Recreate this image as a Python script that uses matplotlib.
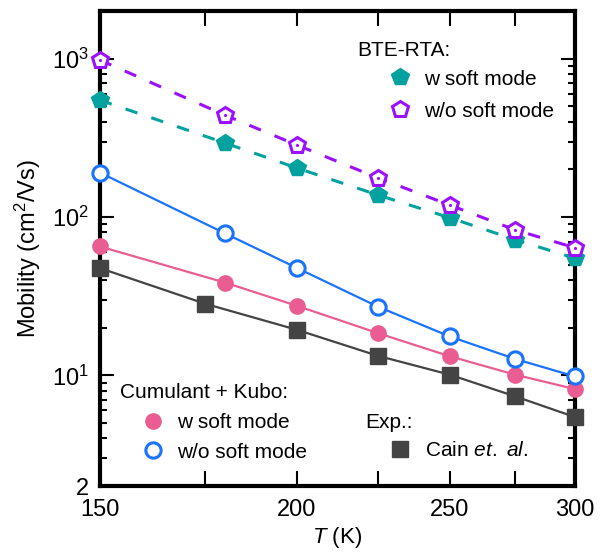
import numpy as np
import matplotlib.pyplot as plt
from matplotlib.ticker import FixedLocator, NullFormatter, LogLocator

plt.rcParams['font.family'] = ['Liberation Sans', 'DejaVu Sans']
plt.rcParams['mathtext.fontset'] = 'custom'
plt.rcParams['mathtext.rm'] = 'Liberation Sans'
plt.rcParams['mathtext.it'] = 'Liberation Sans:italic'

# temperatures (K)
T_calc = [150, 180, 200, 225, 250, 275, 300]
T_exp = [150, 175, 200, 225, 250, 275, 300]

# BTE-RTA mobilities (cm^2/Vs)
bte_soft = [548, 294, 204, 138, 99, 72, 55]
bte_nosoft = [982, 441, 285, 177, 119, 83, 64]

# cumulant + Kubo
ck_soft = [65.2, 38.6, 27.5, 18.5, 13.2, 10.1, 8.2]
ck_nosoft = [191, 79, 47.7, 27.2, 17.6, 12.7, 9.85]

# experiment (Cain et al.)
exp_mu = [47.6, 28.3, 19.4, 13.3, 10.1, 7.37, 5.46]

c_teal = '#00a19e'
c_purple = '#9b10ff'
c_blue = '#1a73ff'
c_pink = '#ea5d92'
c_gray = '#444444'

fig = plt.figure(figsize=(6.05, 5.54), dpi=100)
ax = fig.add_axes([0.165, 0.1227, 0.785, 0.8573])

ms = 11
lw = 1.6
dlw = 2.2
dash = (4.1, 4.8)

ax.plot(T_calc, bte_soft, '--', color=c_teal, lw=dlw, dashes=dash)
ax.plot(T_calc, bte_nosoft, '--', color=c_purple, lw=dlw, dashes=dash)
h_bs, = ax.plot(T_calc, bte_soft, 'p', ls='none', color=c_teal, ms=ms + 2,
                mec=c_teal, clip_on=False, zorder=4)
h_bn, = ax.plot(T_calc, bte_nosoft, 'p', ls='none', mfc='white', mec=c_purple,
                mew=2.2, ms=ms + 1, clip_on=False, zorder=4)
ax.plot(T_calc, bte_nosoft, '.', ls='none', color=c_purple, ms=2.5,
        clip_on=False, zorder=5)

ax.plot(T_exp, exp_mu, '-', color=c_gray, lw=lw)
ax.plot(T_calc, ck_soft, '-', color=c_pink, lw=lw)
ax.plot(T_calc, ck_nosoft, '-', color=c_blue, lw=lw)
h_ex, = ax.plot(T_exp, exp_mu, 's', ls='none', color=c_gray, ms=ms,
                clip_on=False, zorder=4)
h_cs, = ax.plot(T_calc, ck_soft, 'o', ls='none', color=c_pink, ms=ms,
                clip_on=False, zorder=4)
h_cn, = ax.plot(T_calc, ck_nosoft, 'o', ls='none', mfc='white', mec=c_blue,
                mew=2.2, ms=ms, clip_on=False, zorder=4)

ax.set_xscale('log')
ax.set_yscale('log')
ax.set_xlim(150, 300)
ax.set_ylim(2, 2000)

ax.xaxis.set_major_locator(FixedLocator([150, 200, 250, 300]))
ax.xaxis.set_minor_locator(FixedLocator([175, 225, 275]))
ax.xaxis.set_minor_formatter(NullFormatter())
ax.set_xticklabels(['150', '200', '250', '300'])

ax.yaxis.set_major_locator(FixedLocator([2, 10, 100, 1000]))
ax.set_yticklabels(['2', '$10^1$', '$10^2$', '$10^3$'])
ax.yaxis.set_minor_locator(LogLocator(base=10, subs=np.arange(2, 10)))
ax.yaxis.set_minor_formatter(NullFormatter())

ax.tick_params(which='both', direction='in', top=True, right=True,
               labelsize=17, width=1.5)
ax.tick_params(axis='x', which='both', length=11, pad=9)
ax.tick_params(axis='y', which='major', length=10, pad=8)
ax.tick_params(axis='y', which='minor', length=5)
for s in ax.spines.values():
    s.set_linewidth(3)

ax.set_xlabel('$\\it{T}$ (K)', fontsize=16, labelpad=3)
ax.set_ylabel('Mobility (cm$^2$/Vs)', fontsize=17, labelpad=6)

fs = 15
leg_kw = dict(frameon=False, fontsize=fs, borderpad=0, borderaxespad=0,
              handlelength=1.0, handletextpad=0.68, labelspacing=0.63,
              loc='center left')

ax.text(0.541, 0.918, 'BTE-RTA:', transform=ax.transAxes, fontsize=fs,
        va='center', ha='left')
leg1 = ax.legend([h_bs, h_bn], ['w soft mode', 'w/o soft mode'],
                 bbox_to_anchor=(0.610, 0.823), **leg_kw)
ax.add_artist(leg1)

ax.text(0.042, 0.196, 'Cumulant + Kubo:', transform=ax.transAxes, fontsize=fs,
        va='center', ha='left')
leg2 = ax.legend([h_cs, h_cn], ['w soft mode', 'w/o soft mode'],
                 bbox_to_anchor=(0.089, 0.102), **dict(leg_kw, labelspacing=0.49))
ax.add_artist(leg2)

ax.text(0.559, 0.133, 'Exp.:', transform=ax.transAxes, fontsize=fs,
        va='center', ha='left')
ax.legend([h_ex], ['Cain $\\it{et.\\ al.}$'], bbox_to_anchor=(0.610, 0.074),
          **leg_kw)

fig.savefig('out.png', dpi=100)
